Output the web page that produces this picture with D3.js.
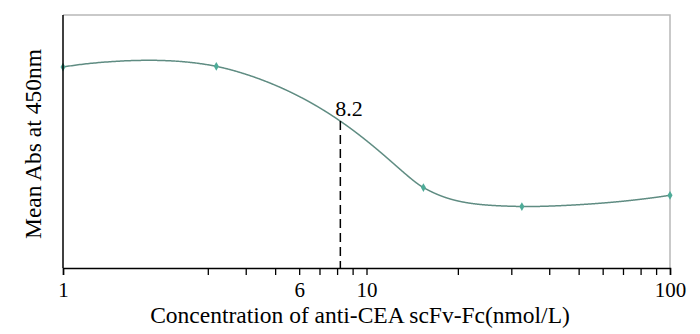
<!DOCTYPE html>
<html>
<head>
<meta charset="utf-8">
<script src="https://cdn.jsdelivr.net/npm/d3@7"></script>
<style>
  body { margin: 0; background: #fff; }
  text { font-family: "Liberation Serif", "Times New Roman", serif; fill: #000; }
</style>
</head>
<body>
<div id="chart"></div>
<script>
// Chart data
const concentrations = [1, 3.2, 15.4, 32.5, 100];
const meanAbs = [1.588, 1.594, 0.636, 0.486, 0.575];
const tickValues = [1, 3, 4, 5, 6, 7, 8, 9, 10, 20, 30, 40, 50, 60, 70, 80, 90, 100];
const tickLabels = [1, 6, 10, 100];
const ec50 = 8.2;

const width = 700;
const height = 334;
const margin = { top: 15, right: 30, bottom: 66, left: 63 };

const svg = d3.select("#chart")
  .append("svg")
  .attr("width", width)
  .attr("height", height);

const x = d3.scaleLog()
  .domain([1, 100])
  .range([margin.left, width - margin.right]);

const y = d3.scaleLinear()
  .domain([0, 2])
  .range([height - margin.bottom, margin.top]);

// the smoothing was done on a linear concentration scale, then shown on the log axis
const xLin = d3.scaleLinear()
  .domain([1, 100])
  .range([0, 2000]);

// Frame (top and right in grey)
svg.append("path")
  .attr("d", `M${x(1)},${y(2)}H${x(100)}V${y(0)}`)
  .attr("fill", "none")
  .attr("stroke", "#b8b8b8")
  .attr("stroke-width", 1.5);

// build the smooth curve in linear space (hidden), then re-project it onto the log axis
const linLine = d3.line().curve(d3.curveCardinal.tension(0.3));
const helper = svg.append("path")
  .attr("d", linLine(concentrations.map((c, i) => [xLin(c), y(meanAbs[i])])))
  .attr("fill", "none")
  .attr("stroke", "none");
const hn = helper.node();
const len = hn.getTotalLength();
const curvePts = [];
for (let k = 0; k <= 6000; k++) {
  const p = hn.getPointAtLength(len * k / 6000);
  curvePts.push([x(Math.max(1, xLin.invert(p.x))), p.y]);
}
helper.remove();

svg.append("path")
  .attr("d", d3.line()(curvePts))
  .attr("fill", "none")
  .attr("stroke", "#5f8c82")
  .attr("stroke-width", 1.5);

// y of the curve where it crosses x = 8.2
const xc = x(ec50);
const crossY = curvePts.reduce((best, p) =>
  Math.abs(p[0] - xc) < Math.abs(best[0] - xc) ? p : best)[1];

// Markers
svg.selectAll(".marker")
  .data(concentrations)
  .enter()
  .append("path")
  .attr("class", "marker")
  .attr("transform", (d, i) => `translate(${x(d)},${y(meanAbs[i])})`)
  .attr("d", d3.symbol(d3.symbolDiamond, 22))
  .attr("fill", "#4eab98");

// Dashed line at EC50
svg.append("line")
  .attr("x1", xc)
  .attr("x2", xc)
  .attr("y1", crossY)
  .attr("y2", y(0))
  .attr("stroke", "#000")
  .attr("stroke-width", 1.5)
  .attr("stroke-dasharray", "9,5");

svg.append("text")
  .attr("x", xc - 5)
  .attr("y", crossY - 5.5)
  .style("font-size", "22px")
  .text("8.2");

// Axes
svg.append("g")
  .attr("transform", `translate(0,${y(0)})`)
  .call(d3.axisBottom(x)
    .tickValues(tickValues)
    .tickSize(7)
    .tickFormat((d) => tickLabels.includes(d) ? d : ""))
  .call((g) => g.select(".domain").attr("stroke-width", 1.5))
  .call((g) => g.selectAll(".tick line").attr("stroke-width", 1.3))
  .call((g) => g.selectAll(".tick text")
    .attr("y", 14)
    .style("font-size", "21px")
    .style("font-family", "Liberation Serif"));

svg.append("line")
  .attr("x1", x(1))
  .attr("x2", x(1))
  .attr("y1", y(2))
  .attr("y2", y(0))
  .attr("stroke", "#000")
  .attr("stroke-width", 1.5);

// Axis titles
svg.append("text")
  .attr("x", 360)
  .attr("y", 323)
  .attr("text-anchor", "middle")
  .style("font-size", "23.5px")
  .text("Concentration of anti-CEA scFv-Fc(nmol/L)");

svg.append("text")
  .attr("transform", `translate(41,144) rotate(-90)`)
  .attr("text-anchor", "middle")
  .style("font-size", "23.5px")
  .text("Mean Abs at 450nm");
</script>
</body>
</html>
